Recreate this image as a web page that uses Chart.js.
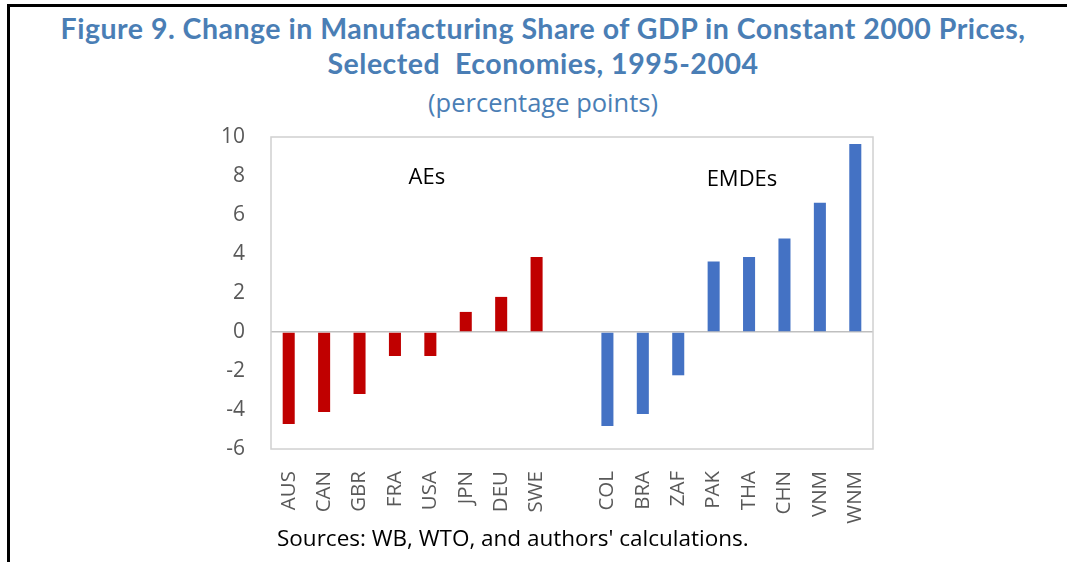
<!DOCTYPE html>
<html>
<head>
<meta charset="utf-8">
<script src="https://cdn.jsdelivr.net/npm/chart.js@4.4.1/dist/chart.umd.min.js"></script>
<style>
  html, body { margin: 0; padding: 0; background: #fff; }
  body { width: 1067px; height: 562px; position: relative; overflow: hidden; }
  #frame { position: absolute; left: 7px; top: 4px; right: 0; bottom: 0; border-top: 3px solid #000; border-left: 3px solid #000; }
  #title { position: absolute; left: 19px; right: 0; top: 11px; text-align: center; font: bold 28.5px Lato, sans-serif; letter-spacing: 0.5px; line-height: 35px; color: #4a7eb5; white-space: nowrap; }
  #subtitle { position: absolute; left: 19px; right: 0; top: 86px; text-align: center; font: 25.5px "Open Sans", sans-serif; line-height: 32px; color: #4a7eb5; }
  #source { position: absolute; left: 277px; top: 524px; font: 22.5px "Open Sans", sans-serif; line-height: 28px; color: #000; }
  #wrap { position: absolute; left: 0; top: 0; width: 1067px; height: 562px; }
</style>
</head>
<body>
<div id="frame"></div>
<div id="title">Figure 9. Change in Manufacturing Share of GDP in Constant 2000 Prices,<br>Selected&nbsp; Economies, 1995-2004</div>
<div id="subtitle">(percentage points)</div>
<div id="wrap"><canvas id="myChart"></canvas></div>
<div id="source">Sources: WB, WTO, and authors' calculations.</div>
<script>
// Categories (empty slot separates the two groups)
const labels = ['AUS', 'CAN', 'GBR', 'FRA', 'USA', 'JPN', 'DEU', 'SWE', '',
    'COL', 'BRA', 'ZAF', 'PAK', 'THA', 'CHN', 'VNM', 'WNM'];

// Change in manufacturing share, percentage points
const aeValues = [-4.72, -4.10, -3.18, -1.23, -1.23, 1.03, 1.80, 3.85, null,
    null, null, null, null, null, null, null, null];
const emdeValues = [null, null, null, null, null, null, null, null, null,
    -4.82, -4.20, -2.22, 3.62, 3.85, 4.80, 6.63, 9.64];

// Y-axis ticks
const yMin = -6;
const yMax = 10;
const yStep = 2;

// Group labels inside the plot
const groupNames = ['AEs', 'EMDEs'];

const tickColor = '#595959';

// box around the plot area + group labels
const plotExtras = {
    id: 'plotExtras',
    afterDatasetsDraw(chart) {
        const { ctx, chartArea, scales } = chart;
        ctx.save();
        ctx.strokeStyle = '#d0d0d0';
        ctx.lineWidth = 1.5;
        ctx.strokeRect(chartArea.left, chartArea.top, chartArea.right - chartArea.left, chartArea.bottom - chartArea.top);

        ctx.fillStyle = '#000';
        ctx.font = '22px "Open Sans", sans-serif';
        ctx.textAlign = 'center';
        ctx.textBaseline = 'middle';
        ctx.fillText(groupNames[0], scales.x.getPixelForValue(3.9), scales.y.getPixelForValue(7.9));
        ctx.fillText(groupNames[1], scales.x.getPixelForValue(12.8), scales.y.getPixelForValue(7.8));
        ctx.restore();
    }
};

const cox = document.getElementById('myChart').getContext('2d');

const myChart = new Chart(cox, {
    type: 'bar',
    data: {
        labels: labels,
        datasets: [{
            label: 'AEs',
            data: aeValues,
            backgroundColor: '#c00000',
            grouped: false,
            categoryPercentage: 1,
            barPercentage: 0.34
        }, {
            label: 'EMDEs',
            data: emdeValues,
            backgroundColor: '#4472c4',
            grouped: false,
            categoryPercentage: 1,
            barPercentage: 0.34
        }]
    },
    options: {
        responsive: true,
        maintainAspectRatio: false,
        animation: false,
        layout: {
            padding: { top: 137, right: 194, bottom: 0, left: 0 }
        },
        plugins: {
            legend: { display: false },
            tooltip: { enabled: false }
        },
        scales: {
            x: {
                grid: { display: false },
                border: { display: false },
                ticks: {
                    autoSkip: false,
                    maxRotation: 90,
                    minRotation: 90,
                    padding: 14,
                    color: tickColor,
                    font: { family: '"Open Sans", sans-serif', size: 20.5 }
                },
                afterFit(scale) { scale.height = 113; }
            },
            y: {
                min: yMin,
                max: yMax,
                grid: {
                    drawTicks: false,
                    lineWidth: 1.5,
                    color: (c) => c.tick && c.tick.value === 0 ? '#bfbfbf' : 'rgba(0,0,0,0)'
                },
                border: { display: false },
                ticks: {
                    stepSize: yStep,
                    padding: 26,
                    color: tickColor,
                    font: { family: '"Open Sans", sans-serif', size: 21 }
                },
                afterFit(scale) { scale.width = 271; }
            }
        }
    },
    plugins: [plotExtras]
});
</script>
</body>
</html>
